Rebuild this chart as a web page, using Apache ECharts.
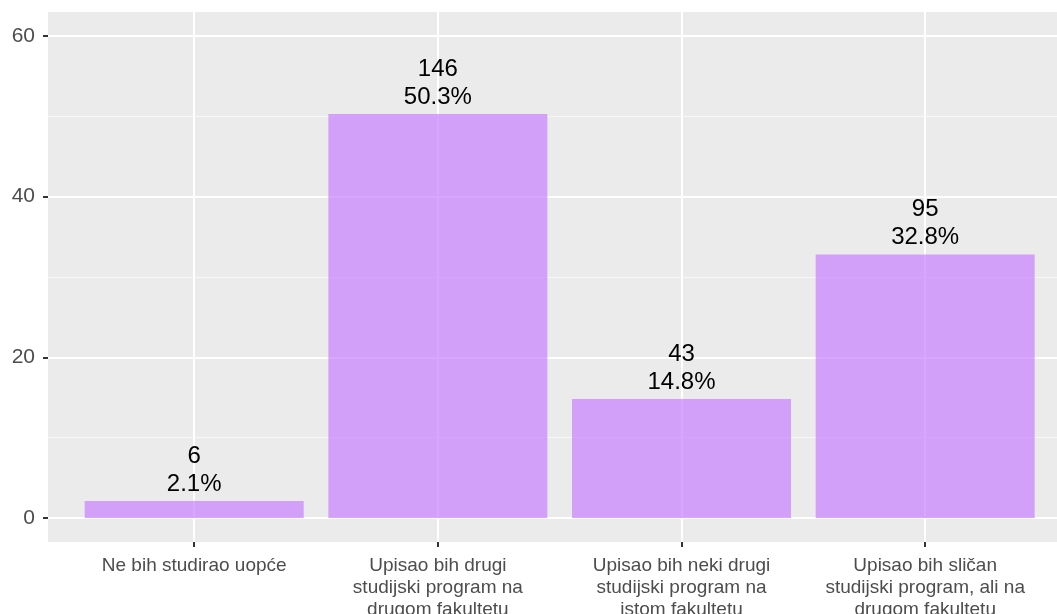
<!DOCTYPE html>
<html>
<head>
<meta charset="utf-8">
<script src="https://cdn.jsdelivr.net/npm/echarts@6/dist/echarts.min.js"></script>
<style>
  html, body { margin: 0; padding: 0; background: #fff; }
  #main { width: 1057px; height: 614px; }
</style>
</head>
<body>
<div id="main"></div>
<script>
const categories = [
    "Ne bih studirao uopće",
    "Upisao bih drugi\nstudijski program na\ndrugom fakultetu",
    "Upisao bih neki drugi\nstudijski program na\nistom fakultetu",
    "Upisao bih sličan\nstudijski program, ali na\ndrugom fakultetu"
];
const counts = [6, 146, 43, 95];
const percents = [2.1, 50.3, 14.8, 32.8];
const yMajorTicks = [0, 20, 40, 60];
const yMinorLines = [10, 30, 50];

const chartDom = document.querySelector("#main");
const myChart = echarts.init(chartDom, null, { renderer: "canvas" });

const xPositions = categories.map((c, i) => i + 1);
const font = "Liberation Sans, Arial, sans-serif";

const option = {
    backgroundColor: "#ffffff",
    animation: false,
    grid: {
        left: 48, right: 0, top: 12, bottom: 72,
        show: true,
        backgroundColor: "#EBEBEB",
        borderWidth: 0,
        outerBoundsMode: "none"
    },
    xAxis: {
        type: "value",
        min: 0.4,
        max: 4.541,
        axisLine: { show: false, onZero: false },
        axisTick: {
            show: true,
            customValues: xPositions,
            length: 5,
            lineStyle: { color: "#333333", width: 2 }
        },
        axisLabel: {
            customValues: xPositions,
            formatter: (v) => categories[Math.round(v) - 1] || "",
            color: "#4D4D4D",
            fontSize: 19,
            lineHeight: 22,
            fontFamily: font,
            margin: 13
        },
        splitLine: { show: true, lineStyle: { color: "#ffffff", width: 2 } }
    },
    yAxis: {
        type: "value",
        min: -3,
        max: 63,
        axisLine: { show: false, onZero: false },
        axisTick: {
            show: true,
            customValues: yMajorTicks,
            length: 5,
            lineStyle: { color: "#333333", width: 2 }
        },
        axisLabel: {
            customValues: yMajorTicks,
            color: "#4D4D4D",
            fontSize: 21,
            fontFamily: font,
            margin: 13
        },
        splitLine: { show: true, lineStyle: { color: "#ffffff", width: 2 } }
    },
    series: [
        {
            type: "bar",
            barWidth: 219,
            data: percents.map((p, i) => [xPositions[i], p]),
            itemStyle: { color: "rgba(199,124,255,0.68)" },
            label: {
                show: true,
                position: "top",
                distance: 3,
                color: "#000000",
                fontSize: 24,
                lineHeight: 28,
                fontFamily: font,
                formatter: (p) => counts[p.dataIndex] + "\n" + percents[p.dataIndex] + "%"
            },
            markLine: {
                silent: true,
                z: 1,
                symbol: "none",
                label: { show: false },
                lineStyle: { color: "#F7F7F7", width: 1, type: "solid" },
                data: yMinorLines.map((v) => ({ yAxis: v }))
            }
        }
    ]
};

myChart.setOption(option);
</script>
</body>
</html>
